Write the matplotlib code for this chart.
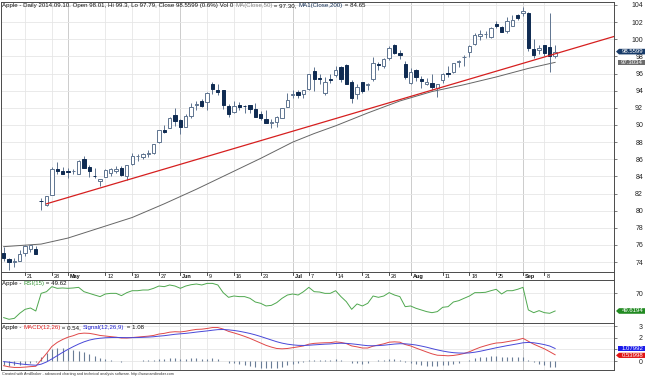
import numpy as np
import matplotlib
matplotlib.use("Agg")
import matplotlib.pyplot as plt
from matplotlib.patches import Polygon

W, H, DPI = 645, 377, 100

# ---- data -------------------------------------------------------------
dates = [
    "2014-04-14", "2014-04-15", "2014-04-16", "2014-04-17", "2014-04-21", "2014-04-22",
    "2014-04-23", "2014-04-24", "2014-04-25", "2014-04-28", "2014-04-29", "2014-04-30",
    "2014-05-01", "2014-05-02", "2014-05-05", "2014-05-06", "2014-05-07", "2014-05-08",
    "2014-05-09", "2014-05-12", "2014-05-13", "2014-05-14", "2014-05-15", "2014-05-16",
    "2014-05-19", "2014-05-20", "2014-05-21", "2014-05-22", "2014-05-23", "2014-05-27",
    "2014-05-28", "2014-05-29", "2014-05-30", "2014-06-02", "2014-06-03", "2014-06-04",
    "2014-06-05", "2014-06-06", "2014-06-09", "2014-06-10", "2014-06-11", "2014-06-12",
    "2014-06-13", "2014-06-16", "2014-06-17", "2014-06-18", "2014-06-19", "2014-06-20",
    "2014-06-23", "2014-06-24", "2014-06-25", "2014-06-26", "2014-06-27", "2014-06-30",
    "2014-07-01", "2014-07-02", "2014-07-03", "2014-07-07", "2014-07-08", "2014-07-09",
    "2014-07-10", "2014-07-11", "2014-07-14", "2014-07-15", "2014-07-16", "2014-07-17",
    "2014-07-18", "2014-07-21", "2014-07-22", "2014-07-23", "2014-07-24", "2014-07-25",
    "2014-07-28", "2014-07-29", "2014-07-30", "2014-07-31", "2014-08-01", "2014-08-04",
    "2014-08-05", "2014-08-06", "2014-08-07", "2014-08-08", "2014-08-11", "2014-08-12",
    "2014-08-13", "2014-08-14", "2014-08-15", "2014-08-18", "2014-08-19", "2014-08-20",
    "2014-08-21", "2014-08-22", "2014-08-25", "2014-08-26", "2014-08-27", "2014-08-28",
    "2014-08-29", "2014-09-02", "2014-09-03", "2014-09-04", "2014-09-05", "2014-09-08",
    "2014-09-09", "2014-09-10",
]

opens = [
    75.05, 74.32, 74.01, 74.14, 75.04, 75.47, 75.58, 81.17, 80.65, 81.83, 84.82, 84.66,
    84.57, 84.62, 84.31, 85.97, 85.04, 84.04, 83.51, 83.93, 84.43, 84.63, 84.96, 84.09,
    85.41, 86.36, 86.26, 86.66, 86.75, 87.98, 89.43, 89.69, 91.14, 90.57, 89.78, 91.06,
    92.31, 92.84, 92.70, 94.73, 94.13, 94.04, 92.20, 91.51, 92.31, 92.27, 92.29, 91.85,
    91.32, 90.75, 90.21, 90.37, 90.82, 92.10, 93.52, 93.87, 93.67, 94.14, 96.27, 95.44,
    93.76, 95.36, 95.86, 96.80, 96.97, 95.03, 93.62, 94.99, 94.68, 95.42, 97.04, 96.85,
    97.82, 99.33, 98.44, 97.16, 94.90, 96.37, 95.36, 94.75, 94.93, 94.26, 95.27, 96.04,
    96.15, 97.33, 97.90, 98.49, 99.41, 100.44, 100.57, 100.29, 101.79, 101.42, 101.02, 101.59,
    102.86, 103.06, 103.10, 98.85, 98.80, 99.30, 99.08, 98.01,
]
highs = [
    75.74, 74.52, 74.44, 75.39, 76.03, 75.98, 75.88, 81.43, 81.71, 85.11, 85.63, 85.13,
    84.97, 84.89, 85.86, 86.34, 85.33, 84.92, 83.75, 84.81, 84.93, 85.20, 85.23, 85.36,
    86.76, 86.63, 86.67, 87.12, 87.82, 89.41, 89.98, 90.98, 92.02, 90.69, 91.25, 92.56,
    92.77, 93.04, 93.88, 95.05, 94.76, 94.12, 92.44, 92.75, 92.70, 92.29, 92.30, 92.55,
    91.62, 91.74, 90.70, 91.05, 92.00, 93.73, 94.07, 94.06, 94.10, 95.99, 96.80, 95.95,
    95.55, 95.89, 96.89, 96.85, 97.10, 95.28, 94.74, 95.00, 94.89, 97.88, 97.32, 97.84,
    99.24, 99.44, 98.70, 97.45, 96.62, 96.58, 95.68, 95.48, 95.95, 94.82, 96.08, 96.88,
    97.24, 97.57, 98.19, 99.37, 100.68, 101.09, 100.94, 101.47, 102.17, 101.50, 102.57, 102.78,
    102.90, 103.74, 103.20, 100.09, 99.39, 99.31, 103.08, 99.30,
]
lows = [
    74.14, 73.05, 73.44, 74.09, 74.74, 75.21, 74.92, 80.10, 80.57, 81.79, 84.26, 84.23,
    83.77, 84.24, 84.29, 84.92, 83.96, 83.77, 82.90, 83.91, 84.10, 84.36, 84.01, 83.63,
    85.33, 85.82, 86.01, 86.30, 86.64, 87.95, 89.11, 89.68, 89.84, 88.93, 89.75, 90.87,
    91.80, 92.07, 91.75, 93.57, 93.47, 91.90, 90.88, 91.45, 91.80, 91.35, 91.34, 90.90,
    90.60, 90.19, 89.65, 89.80, 90.77, 92.09, 93.13, 93.09, 93.20, 94.10, 93.92, 94.76,
    93.52, 94.86, 95.65, 95.03, 94.74, 92.57, 93.02, 93.72, 94.12, 95.17, 96.42, 96.64,
    97.55, 98.25, 97.67, 95.33, 94.81, 95.17, 94.36, 94.71, 94.10, 93.28, 94.84, 95.61,
    96.04, 96.80, 96.86, 97.98, 99.32, 99.95, 100.11, 100.19, 101.28, 100.86, 100.70, 101.56,
    102.20, 102.72, 98.58, 97.79, 98.31, 98.05, 96.14, 97.79,
]
closes = [
    74.53, 73.99, 74.14, 74.99, 75.88, 75.96, 74.96, 81.11, 81.71, 84.87, 84.62, 84.30,
    84.50, 84.65, 85.85, 84.92, 84.62, 84.00, 83.65, 84.69, 84.82, 84.84, 84.12, 85.36,
    86.37, 86.39, 86.62, 86.75, 87.73, 89.38, 89.14, 90.77, 90.43, 89.81, 91.08, 92.12,
    92.48, 92.22, 93.70, 94.25, 93.86, 92.29, 91.28, 92.20, 92.08, 92.18, 91.86, 90.91,
    90.83, 90.28, 90.36, 90.90, 91.98, 92.93, 93.52, 93.48, 94.03, 95.97, 95.35, 95.39,
    95.04, 95.22, 96.45, 95.32, 94.78, 93.09, 94.43, 93.94, 94.72, 97.19, 97.03, 97.67,
    99.02, 98.38, 98.15, 95.60, 96.13, 95.59, 95.12, 94.96, 94.48, 94.74, 95.99, 95.97,
    97.24, 97.50, 97.98, 99.16, 100.53, 100.57, 100.58, 101.32, 101.54, 100.89, 102.13, 102.25,
    102.50, 103.30, 98.94, 98.12, 98.97, 98.36, 97.99, 98.5599,
]

# 50 day moving average at a few bars
ma_idx = [0, 7, 12, 18, 24, 30, 36, 42, 48, 54, 58, 62, 68, 74, 80, 86, 92, 98, 103]
ma_vals = [75.8, 76.1, 76.8, 78.0, 79.2, 80.8, 82.5, 84.3, 86.1, 88.0, 89.0, 89.9,
           91.4, 92.8, 93.9, 94.7, 95.6, 96.6, 97.3034]

# hand drawn trend line (two anchor bars)
trend_idx = [8, 103]
trend_vals = [80.8, 98.3]

rsi = [
    42.1, 40.2, 41.3, 47.0, 51.5, 53.0, 49.6, 69.6, 71.5, 77.2, 75.3, 75.7,
    75.3, 75.7, 76.4, 71.5, 69.6, 67.7, 65.9, 68.9, 69.6, 69.6, 67.0, 70.4,
    72.6, 72.6, 73.4, 73.4, 75.3, 77.9, 77.2, 79.1, 77.9, 75.3, 77.9, 79.4,
    80.2, 79.1, 80.9, 80.9, 79.1, 70.4, 65.1, 66.6, 65.9, 65.9, 64.0, 59.8,
    58.3, 55.3, 56.0, 59.1, 64.0, 67.7, 68.9, 67.7, 71.5, 76.4, 71.5, 71.1,
    69.6, 69.6, 72.6, 65.9, 60.2, 51.5, 57.6, 55.3, 58.3, 66.6, 65.1, 66.6,
    70.4, 67.7, 65.9, 54.5, 55.3, 52.7, 50.8, 48.9, 47.7, 48.9, 53.8, 54.5,
    59.8, 61.3, 64.0, 66.6, 70.4, 70.4, 70.8, 72.6, 74.2, 68.9, 72.6, 72.6,
    74.2, 76.4, 50.8, 47.7, 50.0, 47.7, 47.0, 49.6194,
]

macd = [
    -0.40, -0.50, -0.55, -0.55, -0.52, -0.48, -0.45, 0.10, 0.65, 1.25, 1.60, 1.85,
    2.05, 2.18, 2.35, 2.40, 2.38, 2.30, 2.20, 2.15, 2.10, 2.05, 1.98, 1.98,
    2.02, 2.06, 2.10, 2.14, 2.20, 2.32, 2.38, 2.48, 2.52, 2.50, 2.56, 2.65,
    2.72, 2.74, 2.80, 2.88, 2.88, 2.75, 2.55, 2.42, 2.28, 2.12, 1.95, 1.75,
    1.55, 1.35, 1.20, 1.08, 1.05, 1.08, 1.15, 1.22, 1.30, 1.45, 1.52, 1.55,
    1.57, 1.58, 1.65, 1.60, 1.50, 1.30, 1.22, 1.12, 1.12, 1.28, 1.38, 1.48,
    1.62, 1.65, 1.62, 1.42, 1.30, 1.12, 0.95, 0.78, 0.62, 0.50, 0.48, 0.45,
    0.48, 0.55, 0.65, 0.80, 1.00, 1.18, 1.32, 1.45, 1.55, 1.58, 1.66, 1.74,
    1.82, 1.95, 1.70, 1.45, 1.25, 1.05, 0.80, 0.53998,
]
signal = [
    -0.05, -0.10, -0.17, -0.24, -0.29, -0.33, -0.36, -0.27, -0.08, 0.18, 0.46, 0.74,
    1.00, 1.24, 1.46, 1.65, 1.80, 1.90, 1.96, 2.00, 2.02, 2.03, 2.02, 2.01,
    2.01, 2.02, 2.04, 2.06, 2.09, 2.14, 2.18, 2.24, 2.30, 2.34, 2.38, 2.43,
    2.49, 2.54, 2.59, 2.65, 2.70, 2.71, 2.68, 2.63, 2.56, 2.47, 2.37, 2.25,
    2.11, 1.96, 1.81, 1.66, 1.54, 1.45, 1.39, 1.35, 1.34, 1.36, 1.39, 1.42,
    1.45, 1.47, 1.51, 1.53, 1.52, 1.48, 1.43, 1.37, 1.32, 1.31, 1.33, 1.36,
    1.41, 1.46, 1.49, 1.48, 1.44, 1.38, 1.29, 1.19, 1.07, 0.96, 0.86, 0.78,
    0.72, 0.69, 0.68, 0.70, 0.76, 0.84, 0.94, 1.04, 1.14, 1.23, 1.32, 1.40,
    1.48, 1.57, 1.60, 1.57, 1.50, 1.41, 1.29, 1.07992,
]

# date axis labels: (date, text, is_month)
date_labels = [
    ("2014-04-21", "21", False), ("2014-04-28", "28", False), ("2014-05-01", "May", True),
    ("2014-05-12", "12", False), ("2014-05-19", "19", False), ("2014-05-27", "27", False),
    ("2014-06-02", "Jun", True), ("2014-06-09", "9", False), ("2014-06-16", "16", False),
    ("2014-06-23", "23", False), ("2014-07-01", "Jul", True), ("2014-07-07", "7", False),
    ("2014-07-14", "14", False), ("2014-07-21", "21", False), ("2014-07-28", "28", False),
    ("2014-08-01", "Aug", True), ("2014-08-11", "11", False), ("2014-08-18", "18", False),
    ("2014-08-25", "25", False), ("2014-09-02", "Sep", True), ("2014-09-08", "8", False),
]

# ---- style ------------------------------------------------------------
plt.rcParams['font.family'] = ['Liberation Sans', 'DejaVu Sans']
NAVY = '#0f2b52'
WICK = '#5f7490'
FRAME = '#4a4a4a'
GRID = '#e6e6e6'
MGRID = '#c4c4c4'


def rect(top, bottom, left=1, right=614):
    return [left / W, 1 - bottom / H, (right - left) / W, (bottom - top) / H]


fig = plt.figure(figsize=(W / DPI, H / DPI), dpi=DPI)
ax = fig.add_axes(rect(2, 272))
ax_d = fig.add_axes(rect(272, 279.5))
ax_r = fig.add_axes(rect(279.5, 323))
ax_m = fig.add_axes(rect(323, 370))
ov = fig.add_axes([0, 0, 1, 1], zorder=10)
ov.set_xlim(0, W)
ov.set_ylim(H, 0)
ov.axis('off')

n = len(dates)
x = np.arange(n)
o, hi, lo, c = (np.array(v) for v in (opens, highs, lows, closes))
XMIN, XMAX = -0.5, 114

for a in (ax, ax_d, ax_r, ax_m):
    a.set_xlim(XMIN, XMAX)
    a.set_xticks([])
    for s in a.spines.values():
        s.set_color(FRAME)
        s.set_linewidth(0.7)

# vertical separators
for d, txt, month in date_labels:
    xi = dates.index(d)
    for a in (ax, ax_r, ax_m):
        a.axvline(xi, color=MGRID if month else GRID, lw=0.6, zorder=0)


def right_ticks(a, ticks, labels=None):
    a.yaxis.tick_right()
    a.set_yticks(ticks)
    if labels is not None:
        a.set_yticklabels(labels)
    a.tick_params(axis='y', length=2.5, width=0.6, color='#666666', labelsize=5,
                  pad=18.4, labelcolor='#222222')
    for t in a.get_yticklabels():
        t.set_horizontalalignment('right')
    a.grid(axis='y', color=GRID, lw=0.6, zorder=0)
    a.set_axisbelow(True)


# ---- main price panel -------------------------------------------------
ax.set_ylim(72.84, 104.35)
right_ticks(ax, np.arange(74, 105, 2))

up = c >= o
body_lo = np.minimum(o, c)
body_h = np.maximum(np.abs(c - o), 0.05)
ax.vlines(x, lo, hi, color=WICK, lw=0.7, zorder=3)
ax.bar(x[up], body_h[up], bottom=body_lo[up], width=0.62, color='white',
       edgecolor=WICK, lw=0.7, zorder=4)
ax.bar(x[~up], body_h[~up], bottom=body_lo[~up], width=0.62, color=NAVY,
       edgecolor=NAVY, lw=0.7, zorder=4)

ax.plot(ma_idx, ma_vals, color='#666666', lw=0.7, zorder=2)

slope = (trend_vals[1] - trend_vals[0]) / (trend_idx[1] - trend_idx[0])
ax.plot([trend_idx[0], XMAX], [trend_vals[0], trend_vals[1] + slope * (XMAX - trend_idx[1])],
        color='#d61f1f', lw=0.9, zorder=5, clip_on=True)

# ---- date strip -------------------------------------------------------
ax_d.set_ylim(0, 1)
ax_d.set_yticks([])
for d, txt, month in date_labels:
    xi = dates.index(d)
    ax_d.plot([xi, xi], [1, 0.55], color='#333333', lw=0.6)
    ax_d.text(xi + 0.35, 0.42, txt, fontsize=4, va='center', ha='left',
              fontweight='bold' if month else 'normal', color='#111111')

# ---- RSI panel --------------------------------------------------------
ax_r.set_ylim(36.0, 85.3)
right_ticks(ax_r, [70])
ax_r.plot(x, rsi, color='#4fa84f', lw=0.7, zorder=3)

# ---- MACD panel -------------------------------------------------------
ax_m.set_ylim(-0.77, 3.27)
right_ticks(ax_m, [0, 1, 2, 3], ["0", "", "2", "3"])  # "1" sits under the value tags
hist = np.array(macd) - np.array(signal)
ax_m.vlines(x, 0, hist, color='#6a7d96', lw=0.8, zorder=2)
ax_m.plot(x, macd, color='#e04848', lw=0.7, zorder=3)
ax_m.plot(x, signal, color='#4848d8', lw=0.7, zorder=3)


# ---- text in pixel space ---------------------------------------------
def px_y(a, v):
    return H - a.transData.transform((0, v))[1]


def colour_text(xp, yp, parts, fs):
    t = ov.text(xp, yp, parts[0][0], color=parts[0][1], fontsize=fs, va='center', ha='left')
    for s, col in parts[1:]:
        t = ov.annotate(s, xy=(1, 0), xycoords=t, color=col, fontsize=fs,
                        va='bottom', ha='left')


def tag(yp, text, col, arrow=True, x0=616, x1=645, h=5.6):
    a = 3 if arrow else 0
    pts = [(x0, yp), (x0 + a, yp - h / 2), (x1, yp - h / 2), (x1, yp + h / 2), (x0 + a, yp + h / 2)]
    if not arrow:
        pts = pts[1:]
    ov.add_patch(Polygon(pts, closed=True, fc=col, ec='none'))
    ov.text((x0 + a + x1) / 2 + 0.5, yp, text, color='white', fontsize=4.3,
            ha='center', va='center')


colour_text(2, 5.5, [
    ("Apple - Daily 2014.09.10. Open 98.01, Hi 99.3, Lo 97.79, Close 98.5599 (0.6%) Vol 0 ", '#111111'),
    ("MA(Close,50)", '#888888'), (" = 97.30, ", '#111111'),
    ("MA1(Close,200)", '#0f2b52'), (" = 84.65", '#111111'),
], 4.4)
colour_text(2, 283.5, [("Apple - ", '#111111'), ("RSI(15)", '#3a9a3a'), (" = 49.62", '#111111')], 4.4)
colour_text(2, 327.5, [("Apple - ", '#111111'), ("MACD(12,26)", '#e02020'), (" = 0.54, ", '#111111'),
                       ("Signal(12,26,9)", '#2020d0'), (" = 1.08", '#111111')], 4.4)
ov.text(2, 374.3, "Created with AmiBroker - advanced charting and technical analysis software. "
        "http://www.amibroker.com", fontsize=2.7, color='#333333', va='center', ha='left')

tag(px_y(ax, closes[-1]), "98.5599", '#173a68')
tag(px_y(ax, ma_vals[-1]), "97.3034", '#6c6c6c', arrow=False, x0=618)
tag(px_y(ax_r, rsi[-1]), "49.6194", '#218a21')
tag(px_y(ax_m, signal[-1]), "1.07992", '#1b1bea', arrow=False, x0=618, h=5.2)
tag(px_y(ax_m, macd[-1]) + 0.6, "0.53998", '#e01414', h=5.2)

fig.savefig("out.png", dpi=DPI)
